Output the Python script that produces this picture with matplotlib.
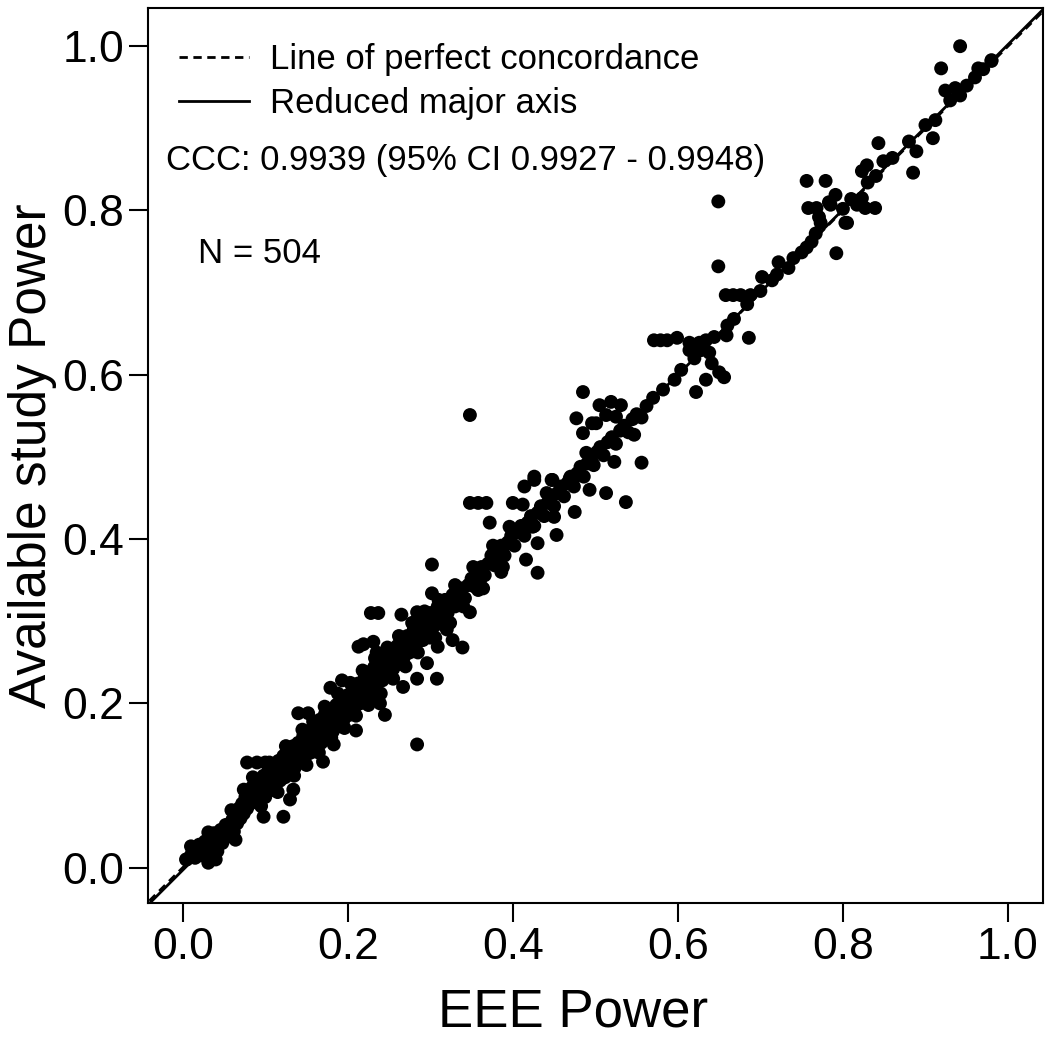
import numpy as np
import matplotlib.pyplot as plt

plt.rcParams['font.family'] = ['Liberation Sans', 'DejaVu Sans']

# points on / close to the diagonal band (EEE power, available study power)
band_pts = [
    (0.005, 0.010), (0.010, 0.015), (0.012, 0.022), (0.015, 0.012), (0.018, 0.020), (0.020, 0.028),
    (0.022, 0.015), (0.025, 0.024), (0.027, 0.032), (0.030, 0.018), (0.031, 0.027), (0.034, 0.036),
    (0.036, 0.024), (0.038, 0.042), (0.040, 0.030), (0.042, 0.020), (0.044, 0.038), (0.046, 0.046),
    (0.048, 0.030), (0.050, 0.042), (0.052, 0.052), (0.055, 0.038), (0.057, 0.048), (0.060, 0.058),
    (0.062, 0.044), (0.064, 0.066), (0.066, 0.054), (0.068, 0.072), (0.070, 0.060), (0.072, 0.078),
    (0.074, 0.066), (0.076, 0.086), (0.078, 0.072), (0.080, 0.092), (0.082, 0.078), (0.084, 0.098),
    (0.086, 0.084), (0.088, 0.104), (0.090, 0.090), (0.092, 0.080), (0.094, 0.108), (0.096, 0.096),
    (0.098, 0.112), (0.100, 0.086), (0.102, 0.100), (0.104, 0.118), (0.106, 0.094), (0.108, 0.108),
    (0.110, 0.124), (0.112, 0.100), (0.114, 0.114), (0.116, 0.130), (0.118, 0.106), (0.120, 0.120),
    (0.122, 0.136), (0.124, 0.110), (0.126, 0.126), (0.128, 0.142), (0.130, 0.116), (0.132, 0.132),
    (0.134, 0.148), (0.136, 0.122), (0.138, 0.138), (0.140, 0.152), (0.142, 0.128), (0.144, 0.144),
    (0.146, 0.160), (0.148, 0.134), (0.150, 0.150), (0.152, 0.166), (0.155, 0.140), (0.157, 0.156),
    (0.160, 0.172), (0.162, 0.148), (0.164, 0.164), (0.166, 0.180), (0.168, 0.152), (0.170, 0.170),
    (0.172, 0.186), (0.175, 0.160), (0.177, 0.176), (0.180, 0.192), (0.182, 0.166), (0.184, 0.182),
    (0.186, 0.198), (0.188, 0.172), (0.190, 0.190), (0.192, 0.204), (0.195, 0.180), (0.197, 0.196),
    (0.200, 0.210), (0.202, 0.186), (0.204, 0.202), (0.206, 0.218), (0.208, 0.194), (0.210, 0.208),
    (0.212, 0.224), (0.215, 0.200), (0.217, 0.216), (0.220, 0.230), (0.222, 0.206), (0.224, 0.222),
    (0.226, 0.238), (0.228, 0.214), (0.230, 0.230), (0.232, 0.244), (0.235, 0.222), (0.237, 0.236),
    (0.240, 0.250), (0.242, 0.228), (0.244, 0.244), (0.246, 0.258), (0.248, 0.236), (0.250, 0.250),
    (0.252, 0.264), (0.255, 0.242), (0.257, 0.256), (0.260, 0.270), (0.262, 0.248), (0.264, 0.262),
    (0.266, 0.276), (0.268, 0.256), (0.270, 0.270), (0.272, 0.282), (0.275, 0.262), (0.277, 0.276),
    (0.280, 0.290), (0.282, 0.270), (0.284, 0.284), (0.286, 0.296), (0.288, 0.278), (0.290, 0.290),
    (0.293, 0.302), (0.295, 0.284), (0.298, 0.298), (0.300, 0.310), (0.303, 0.292), (0.306, 0.306),
    (0.309, 0.318), (0.312, 0.300), (0.315, 0.314), (0.318, 0.326), (0.321, 0.310), (0.324, 0.322),
    (0.327, 0.332), (0.330, 0.318), (0.334, 0.330), (0.338, 0.340), (0.342, 0.328), (0.346, 0.344),
    (0.350, 0.352), (0.354, 0.342), (0.358, 0.358), (0.362, 0.366), (0.366, 0.356), (0.370, 0.370),
    (0.374, 0.380), (0.378, 0.368), (0.382, 0.384), (0.386, 0.392), (0.390, 0.380), (0.394, 0.396),
    (0.398, 0.404), (0.402, 0.392), (0.406, 0.408), (0.410, 0.416), (0.414, 0.404), (0.418, 0.420),
    (0.422, 0.428), (0.426, 0.416), (0.430, 0.432), (0.434, 0.440), (0.438, 0.428), (0.442, 0.444),
    (0.446, 0.452), (0.450, 0.440), (0.454, 0.456), (0.458, 0.464), (0.462, 0.452), (0.466, 0.468),
    (0.470, 0.476), (0.474, 0.464), (0.478, 0.480), (0.482, 0.488), (0.486, 0.476), (0.490, 0.492),
    (0.494, 0.500), (0.498, 0.490), (0.502, 0.506), (0.506, 0.512), (0.510, 0.502), (0.515, 0.518),
    (0.520, 0.524), (0.525, 0.516), (0.530, 0.532), (0.535, 0.538), (0.540, 0.530), (0.545, 0.546),
    (0.550, 0.552), (0.556, 0.548), (0.562, 0.562), (0.570, 0.572), (0.582, 0.582), (0.596, 0.594),
    (0.604, 0.606), (0.620, 0.620), (0.628, 0.630), (0.644, 0.646), (0.660, 0.660), (0.668, 0.668),
    (0.684, 0.686), (0.700, 0.702), (0.720, 0.722), (0.740, 0.742), (0.800, 0.802), (0.810, 0.814),
    (0.830, 0.834), (0.840, 0.842), (0.860, 0.864), (0.880, 0.884), (0.900, 0.904), (0.930, 0.934),
    (0.940, 0.944), (0.950, 0.952), (0.960, 0.962), (0.970, 0.972), (0.980, 0.982),
]

# extra points widening the dense lower part of the band
band_extra = [
    (0.085, 0.110), (0.095, 0.075), (0.105, 0.128), (0.115, 0.092), (0.125, 0.148), (0.135, 0.112),
    (0.145, 0.168), (0.150, 0.125), (0.158, 0.178), (0.165, 0.140), (0.172, 0.196), (0.180, 0.158),
    (0.188, 0.212), (0.196, 0.170), (0.203, 0.225), (0.210, 0.185), (0.218, 0.240), (0.225, 0.198),
    (0.233, 0.255), (0.240, 0.212), (0.248, 0.268), (0.255, 0.230), (0.262, 0.282), (0.270, 0.245),
    (0.278, 0.298), (0.285, 0.262), (0.293, 0.312), (0.300, 0.280), (0.310, 0.326), (0.318, 0.296),
    (0.330, 0.344), (0.340, 0.318), (0.352, 0.366), (0.364, 0.340), (0.376, 0.392), (0.388, 0.366),
]

# points further away from the diagonal, low range
low_pts = [
    (0.031, 0.043), (0.010, 0.026), (0.004, 0.010), (0.040, 0.010), (0.031, 0.006), (0.064, 0.034),
    (0.059, 0.070), (0.098, 0.062), (0.122, 0.062), (0.134, 0.095), (0.130, 0.083), (0.074, 0.095),
    (0.078, 0.128), (0.090, 0.128), (0.100, 0.128), (0.140, 0.188), (0.152, 0.188), (0.170, 0.129),
    (0.183, 0.150), (0.210, 0.167), (0.245, 0.186), (0.284, 0.150), (0.179, 0.219), (0.193, 0.228),
    (0.213, 0.269), (0.219, 0.272), (0.231, 0.275), (0.235, 0.262), (0.228, 0.310), (0.237, 0.310),
    (0.265, 0.308), (0.284, 0.311), (0.302, 0.334), (0.302, 0.369), (0.235, 0.208), (0.239, 0.200),
    (0.267, 0.220), (0.284, 0.230), (0.296, 0.249), (0.308, 0.230), (0.291, 0.277), (0.306, 0.280),
    (0.309, 0.269), (0.320, 0.290), (0.324, 0.298), (0.327, 0.277), (0.339, 0.268), (0.315, 0.296),
    (0.348, 0.311),
]

# mid range
mid_pts = [
    (0.348, 0.551), (0.348, 0.444), (0.358, 0.444), (0.368, 0.444), (0.372, 0.420), (0.360, 0.348),
    (0.358, 0.338), (0.376, 0.380), (0.388, 0.389), (0.386, 0.360), (0.380, 0.369), (0.396, 0.415),
    (0.404, 0.408), (0.400, 0.444), (0.412, 0.442), (0.414, 0.464), (0.426, 0.472), (0.424, 0.415),
    (0.430, 0.395), (0.416, 0.375), (0.430, 0.359), (0.432, 0.432), (0.441, 0.456), (0.448, 0.472),
    (0.453, 0.405), (0.450, 0.427), (0.475, 0.433), (0.426, 0.476), (0.447, 0.472), (0.469, 0.474),
    (0.475, 0.476), (0.489, 0.505), (0.496, 0.493), (0.493, 0.460), (0.496, 0.541), (0.477, 0.547),
    (0.485, 0.529), (0.485, 0.579), (0.505, 0.563), (0.519, 0.567), (0.531, 0.563), (0.501, 0.541),
    (0.513, 0.551), (0.525, 0.549), (0.523, 0.494), (0.556, 0.493), (0.547, 0.527), (0.513, 0.456),
    (0.537, 0.445),
]

# high range
high_pts = [
    (0.571, 0.642), (0.579, 0.642), (0.587, 0.642), (0.599, 0.645), (0.614, 0.639), (0.626, 0.639),
    (0.634, 0.642), (0.659, 0.648), (0.686, 0.645), (0.614, 0.630), (0.638, 0.627), (0.641, 0.614),
    (0.650, 0.603), (0.656, 0.597), (0.634, 0.594), (0.622, 0.579), (0.649, 0.811), (0.649, 0.732),
    (0.658, 0.697), (0.667, 0.697), (0.676, 0.697), (0.688, 0.697), (0.702, 0.719), (0.714, 0.715),
    (0.722, 0.737), (0.734, 0.730), (0.750, 0.749), (0.756, 0.755), (0.762, 0.762), (0.767, 0.772),
    (0.773, 0.785), (0.771, 0.792), (0.783, 0.810), (0.792, 0.748), (0.803, 0.785), (0.791, 0.819),
    (0.756, 0.836), (0.779, 0.836), (0.758, 0.803), (0.768, 0.803), (0.785, 0.807), (0.817, 0.807),
    (0.827, 0.803), (0.839, 0.803), (0.823, 0.815), (0.805, 0.785), (0.823, 0.848), (0.829, 0.855),
    (0.849, 0.860), (0.843, 0.882), (0.885, 0.846), (0.889, 0.872), (0.909, 0.888), (0.912, 0.910),
    (0.924, 0.946), (0.936, 0.949), (0.942, 0.940), (0.919, 0.973), (0.942, 1.000), (0.964, 0.973),
    (0.980, 0.983),
]

# reduced major axis as drawn in the reference: intercept, slope
rma_coef = [-0.003, 1.005]

ccc_text = "CCC: 0.9939 (95% CI 0.9927 - 0.9948)"
n_text = "N = 504"
ticks = [0.0, 0.2, 0.4, 0.6, 0.8, 1.0]

pts = np.array(band_pts + band_extra + low_pts + mid_pts + high_pts)
x, y = pts[:, 0], pts[:, 1]

fig = plt.figure(figsize=(10.5, 10.5), dpi=100)
ax = fig.add_axes([0.141, 0.14, 0.852, 0.852])

ax.scatter(x, y, s=100, c='black', edgecolors='none', zorder=3)

xl = np.array([-0.1, 1.1])
ax.plot(xl, xl, color='black', ls=(0, (3, 2)), lw=2, label='Line of perfect concordance', zorder=4)
ax.plot(xl, rma_coef[0] + rma_coef[1] * xl, color='black', lw=2,
        label='Reduced major axis', zorder=4)

ax.set_xlim(-0.042, 1.042)
ax.set_ylim(-0.043, 1.046)
ax.set_xticks(ticks)
ax.set_yticks(ticks)
ax.set_xticklabels([f"{t:.1f}" for t in ticks])
ax.set_yticklabels([f"{t:.1f}" for t in ticks])
ax.tick_params(labelsize=32, length=14, width=1.5, pad=3)
for sp in ax.spines.values():
    sp.set_linewidth(1.5)

ax.set_xlabel("EEE Power", fontsize=38, labelpad=14)
ax.xaxis.label.set_x(0.475)
ax.set_ylabel("Available study Power", fontsize=37, labelpad=4)

ax.legend(loc='upper left', bbox_to_anchor=(0.0, 0.996), frameon=False, fontsize=25,
          handlelength=2.0, handletextpad=0.6, labelspacing=0.32)

ax.text(-0.02, 0.861, ccc_text, fontsize=25, va='center', ha='left')
ax.text(0.018, 0.748, n_text, fontsize=25, va='center', ha='left')

fig.savefig("out.png", dpi=100)
